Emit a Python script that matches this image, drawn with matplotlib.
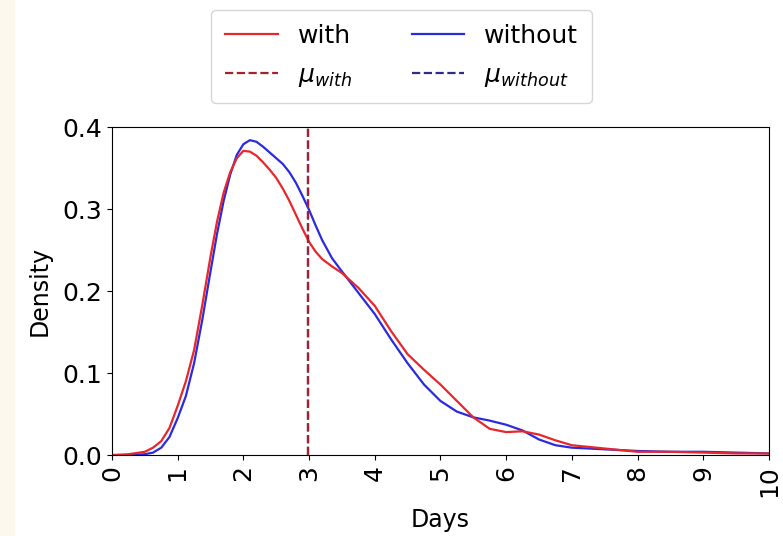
import numpy as np
import matplotlib.pyplot as plt
from matplotlib.patches import Rectangle

plt.close('all')

# KDE of days, read at these points
days = [0, 0.25, 0.5, 0.625, 0.75, 0.875, 1.0, 1.125, 1.25, 1.375,
        1.5, 1.6, 1.7, 1.8, 1.9, 2.0, 2.1, 2.2, 2.3, 2.4, 2.5, 2.6, 2.7, 2.8, 2.9,
        3.0, 3.1, 3.2, 3.35, 3.5, 3.75, 4.0, 4.25, 4.5, 4.75, 5.0, 5.25, 5.5, 5.75,
        6.0, 6.25, 6.5, 6.75, 7.0, 7.5, 8.0, 8.5, 9.0, 9.5, 10.0]
dens_with = [0.0, 0.001, 0.004, 0.009, 0.017, 0.033, 0.060, 0.090, 0.128, 0.183,
             0.242, 0.285, 0.320, 0.345, 0.362, 0.371, 0.370, 0.365, 0.357, 0.348,
             0.338, 0.325, 0.310, 0.293, 0.276,
             0.260, 0.248, 0.239, 0.230, 0.222, 0.204, 0.182, 0.151, 0.123, 0.104,
             0.086, 0.066, 0.046, 0.032,
             0.028, 0.029, 0.025, 0.018, 0.012, 0.008, 0.004, 0.004, 0.003, 0.002, 0.002]
dens_without = [0.0, 0.0, 0.001, 0.003, 0.009, 0.022, 0.045, 0.072, 0.112, 0.165,
                0.224, 0.270, 0.310, 0.342, 0.366, 0.379, 0.384, 0.382, 0.376, 0.369,
                0.362, 0.355, 0.345, 0.332, 0.316,
                0.299, 0.280, 0.262, 0.240, 0.224, 0.198, 0.172, 0.141, 0.112, 0.086,
                0.066, 0.053, 0.046, 0.042,
                0.037, 0.030, 0.019, 0.012, 0.009, 0.007, 0.005, 0.004, 0.004, 0.003, 0.002]
mean_with = 2.98
mean_without = 2.98

fig = plt.figure(figsize=(7.83, 5.36), dpi=100)
fig.patches.append(Rectangle((0, 0), 15/783, 1, transform=fig.transFigure,
                             facecolor='#fdf8ee', edgecolor='none', zorder=0))
ax = fig.add_axes([0.143, 0.151, 0.839, 0.612])

ax.plot(days, dens_with, color='#e8262b', lw=1.6, label='with')
ax.axvline(mean_with, color='#a8202e', ls='--', lw=1.6, label=r'$\mu_{with}$')
ax.plot(days, dens_without, color='#2a2ae0', lw=1.6, label='without', zorder=1.9)
ax.axvline(mean_without, color='#2c2c8c', ls='--', lw=1.6, label=r'$\mu_{without}$',
           zorder=1.8)

ax.set_xlim(0, 10)
ax.set_ylim(0, 0.4)
ax.set_xticks(range(0, 11))
ax.set_yticks([0.0, 0.1, 0.2, 0.3, 0.4])
ax.tick_params(labelsize=18)
plt.setp(ax.get_xticklabels(), rotation=90)
ax.set_xlabel('Days', fontsize=17, labelpad=8)
ax.set_ylabel('Density', fontsize=17, labelpad=8)

handles, labels = ax.get_legend_handles_labels()
fig.legend(handles, labels, ncol=2,
           loc='upper center', bbox_to_anchor=(0.513, 1.004), fontsize=18,
           columnspacing=2.4, handlelength=2.1, borderpad=0.55, labelspacing=0.6)

fig.savefig('out.png', dpi=100)
